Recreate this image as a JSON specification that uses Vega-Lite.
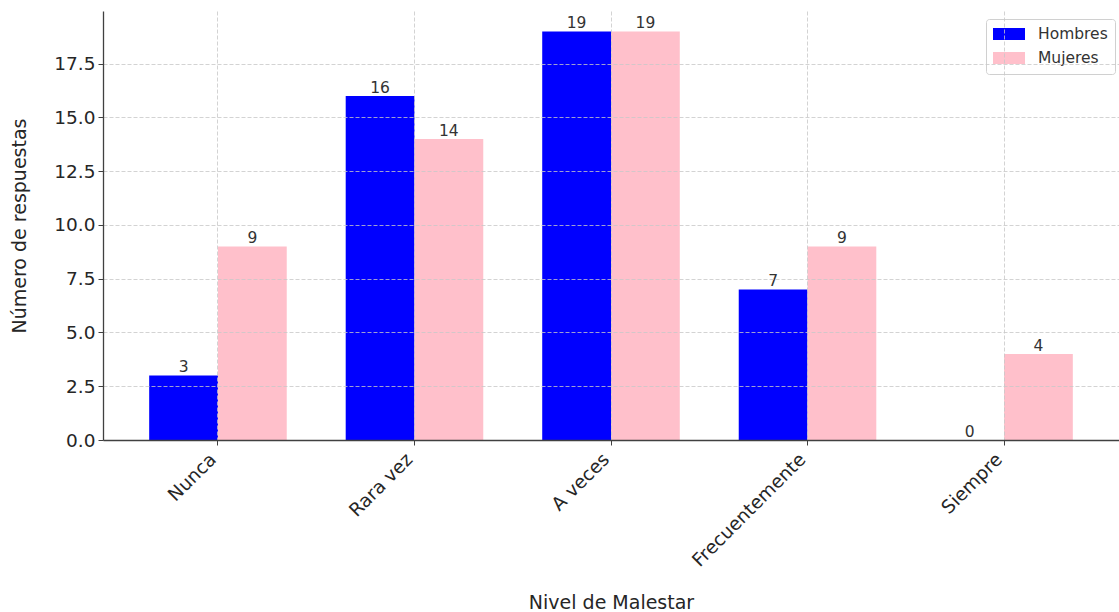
{
  "$schema": "https://vega.github.io/schema/vega-lite/v6.json",
  "autosize": {"type": "none"},
  "padding": {"left": 103, "top": 11, "right": 0, "bottom": 172},
  "width": 1016,
  "height": 429,
  "background": "white",
  "data": {
    "values": [
      {"nivel": "Nunca", "genero": "Hombres", "n": 3},
      {"nivel": "Nunca", "genero": "Mujeres", "n": 9},
      {"nivel": "Rara vez", "genero": "Hombres", "n": 16},
      {"nivel": "Rara vez", "genero": "Mujeres", "n": 14},
      {"nivel": "A veces", "genero": "Hombres", "n": 19},
      {"nivel": "A veces", "genero": "Mujeres", "n": 19},
      {"nivel": "Frecuentemente", "genero": "Hombres", "n": 7},
      {"nivel": "Frecuentemente", "genero": "Mujeres", "n": 9},
      {"nivel": "Siempre", "genero": "Hombres", "n": 0},
      {"nivel": "Siempre", "genero": "Mujeres", "n": 4}
    ]
  },
  "encoding": {
    "x": {
      "field": "nivel",
      "type": "nominal",
      "sort": ["Nunca", "Rara vez", "A veces", "Frecuentemente", "Siempre"],
      "scale": {"paddingInner": 0.3, "paddingOuter": 0.235},
      "axis": {
        "title": "Nivel de Malestar",
        "titlePadding": 24,
        "titleFontSize": 19,
        "titleFontWeight": "normal",
        "titleColor": "#262626",
        "labelAngle": -45,
        "labelAlign": "right",
        "labelBaseline": "middle",
        "labelFontSize": 18.5,
        "labelColor": "#262626",
        "labelPadding": 11,
        "labelOffset": -5,
        "bandPosition": 0.5,
        "grid": true,
        "gridColor": "#c8c8c8",
        "gridDash": [4, 2],
        "gridWidth": 0.8,
        "domainColor": "#404040",
        "domainWidth": 1.3,
        "tickColor": "#404040",
        "tickSize": 5,
        "zindex": 1
      }
    },
    "xOffset": {
      "field": "genero",
      "type": "nominal",
      "sort": ["Hombres", "Mujeres"],
      "scale": {"paddingInner": 0, "paddingOuter": 0}
    },
    "y": {
      "field": "n",
      "type": "quantitative",
      "scale": {"domain": [0, 19.95], "nice": false},
      "axis": {
        "title": "Número de respuestas",
        "titlePadding": 24,
        "titleFontSize": 19,
        "titleFontWeight": "normal",
        "titleColor": "#262626",
        "values": [0, 2.5, 5, 7.5, 10, 12.5, 15, 17.5],
        "format": ".1f",
        "labelFontSize": 18.5,
        "labelColor": "#262626",
        "labelPadding": 3,
        "grid": true,
        "gridColor": "#c8c8c8",
        "gridDash": [4, 2],
        "gridWidth": 0.8,
        "domainColor": "#404040",
        "domainWidth": 1.3,
        "tickColor": "#404040",
        "tickSize": 5,
        "zindex": 1
      }
    }
  },
  "layer": [
    {
      "mark": {"type": "bar"},
      "encoding": {
        "color": {
          "field": "genero",
          "type": "nominal",
          "sort": ["Hombres", "Mujeres"],
          "scale": {"domain": ["Hombres", "Mujeres"], "range": ["#0000ff", "#ffc0cb"]},
          "legend": {
            "title": null,
            "orient": "none",
            "legendX": 883,
            "legendY": 8,
            "padding": 7,
            "fillColor": "white",
            "strokeColor": "#d0d0d0",
            "cornerRadius": 3,
            "symbolType": "M-1,-0.75H3V0.75H-1Z",
            "symbolSize": 256,
            "symbolStrokeWidth": 0,
            "labelFontSize": 15.5,
            "labelColor": "#333333",
            "labelOffset": 29,
            "rowPadding": 7
          }
        }
      }
    },
    {
      "mark": {"type": "text", "baseline": "alphabetic", "dy": -3, "fontSize": 15.5, "color": "#333333"},
      "encoding": {
        "text": {"field": "n", "type": "quantitative"}
      }
    }
  ],
  "config": {
    "font": "DejaVu Sans",
    "view": {"stroke": null},
    "bar": {"stroke": null}
  }
}
